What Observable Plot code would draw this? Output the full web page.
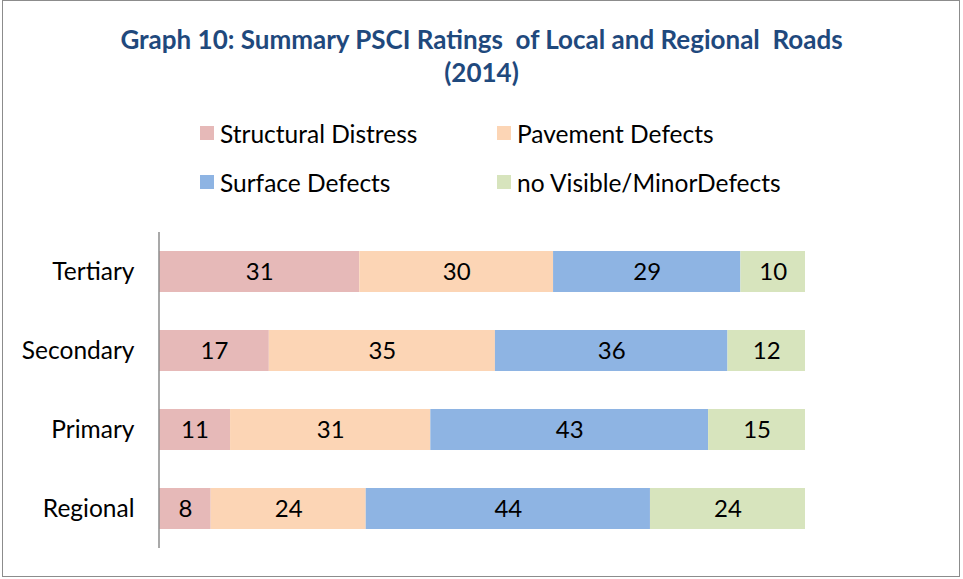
<!DOCTYPE html>
<html>
<head>
<meta charset="utf-8">
<script src="https://cdn.jsdelivr.net/npm/d3@7"></script>
<script src="https://cdn.jsdelivr.net/npm/@observablehq/plot@0.6"></script>
<style>
  body { margin: 0; background: #fff; font-family: Lato, "Open Sans", sans-serif; }
  #wrap { position: relative; width: 963px; height: 579px; overflow: hidden; }
  #frame { position: absolute; left: 2px; top: 0px; width: 956px; height: 575px; border: 1.5px solid #8c8c8c; box-sizing: content-box; }
  #title { position: absolute; left: 0; top: 23px; width: 963px; text-align: center; color: #1F497D; font-weight: bold; font-size: 26px; line-height: 33px; white-space: pre; }
  .leg { position: absolute; font-size: 24.5px; color: #000; display: flex; align-items: center; white-space: pre; }
  .sw { width: 14px; height: 14px; margin-right: 6px; }
  #chart { position: absolute; left: 0; top: 0; }
</style>
</head>
<body>
<div id="wrap">
  <div id="frame"></div>
  <div id="title">Graph 10: Summary PSCI Ratings  of Local and Regional  Roads
(2014)</div>
  <div id="legend"></div>
  <div id="chart"></div>
</div>
<script>
const categories = ["Tertiary", "Secondary", "Primary", "Regional"];
const series = ["Structural Distress", "Pavement Defects", "Surface Defects", "no Visible/MinorDefects"];
const colors = ["#E6B9B8", "#FCD5B5", "#8EB4E3", "#D7E4BD"];
const structural = [31, 17, 11, 8];
const pavement = [30, 35, 31, 24];
const surface = [29, 36, 43, 44];
const noVisible = [10, 12, 15, 24];

const seriesValues = [structural, pavement, surface, noVisible];
const data = [];
categories.forEach((c, i) => {
  series.forEach((s, j) => data.push({cat: c, series: s, value: seriesValues[j][i]}));
});

// Legend
const legPos = [[200, 133], [497, 133], [200, 182], [497, 182]];
const legend = document.getElementById("legend");
series.forEach((s, j) => {
  const d = document.createElement("div");
  d.className = "leg";
  d.style.left = legPos[j][0] + "px";
  d.style.top = (legPos[j][1] - 15) + "px";
  d.style.height = "30px";
  d.innerHTML = `<span class="sw" style="background:${colors[j]}"></span><span>${s}</span>`;
  legend.appendChild(d);
});

const chart = Plot.plot({
  width: 963,
  height: 579,
  marginTop: 232,
  marginBottom: 31,
  marginLeft: 159,
  marginRight: 158,
  style: { fontFamily: "Lato, 'Open Sans', sans-serif", fontSize: "24.5px", background: "transparent", color: "#000" },
  x: { domain: [0, 100], axis: null },
  y: { domain: categories, paddingInner: 0.48, paddingOuter: 0.24, label: null, tickSize: 0, tickPadding: 25 },
  color: { domain: series, range: colors },
  marks: [
    Plot.barX(data, Plot.stackX({ x: "value", y: "cat", fill: "series", inset: 0 })),
    Plot.textX(data, Plot.stackX({ x: "value", y: "cat", text: d => String(d.value), fill: "#000", fontSize: 24 })),
    Plot.ruleX([0], { stroke: "#8c8c8c", strokeWidth: 1.5, dx: -0.5 })
  ]
});
document.getElementById("chart").appendChild(chart);
</script>
</body>
</html>
